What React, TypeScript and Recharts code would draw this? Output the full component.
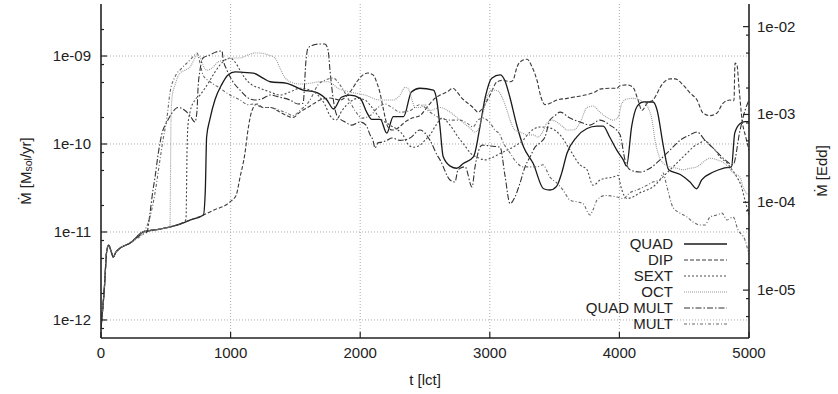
import React from 'react';
import { LineChart, Line, XAxis, YAxis, ReferenceLine, Legend } from 'recharts';

type Pt = [number, number];

// t [lct] -> Mdot [Msol/yr]
const START: Pt[] = [
  [0, 8.1e-13], [25, 2.2e-12], [45, 6.2e-12], [60, 7.1e-12], [75, 6.2e-12], [95, 5.2e-12],
  [115, 5.9e-12], [150, 6.6e-12], [225, 7.5e-12],
];

const QUAD: Pt[] = [
  [325, 1.0e-11], [455, 1.08e-11], [585, 1.2e-11], [690, 1.37e-11], [790, 1.56e-11], [805, 3.0e-11],
  [815, 1.2e-10], [840, 1.9e-10], [880, 3.2e-10], [930, 4.7e-10], [980, 6.1e-10], [1035, 6.6e-10],
  [1100, 6.5e-10], [1175, 6.4e-10], [1250, 5.6e-10], [1305, 5.1e-10], [1435, 4.9e-10], [1560, 4.1e-10],
  [1650, 3.9e-10], [1740, 3.2e-10], [1795, 2.5e-10], [1855, 3.4e-10], [1920, 3.6e-10], [2000, 3.3e-10],
  [2050, 2.3e-10], [2090, 1.9e-10], [2155, 1.9e-10], [2205, 1.33e-10], [2255, 2.05e-10], [2335, 2.05e-10],
  [2395, 3.9e-10], [2460, 4.3e-10], [2565, 4.1e-10], [2590, 3.2e-10], [2615, 1.6e-10], [2640, 7.2e-11],
  [2695, 5.6e-11], [2745, 5.3e-11], [2795, 6.0e-11], [2875, 7.2e-11], [2925, 1.6e-10], [2965, 3.4e-10],
  [3015, 5.6e-10], [3080, 6.1e-10], [3115, 5.3e-10], [3155, 3.4e-10], [3205, 1.7e-10], [3260, 9.3e-11],
  [3335, 6.0e-11], [3415, 3.1e-11], [3465, 3.0e-11], [3515, 3.3e-11], [3555, 4.7e-11], [3595, 7.8e-11],
  [3670, 1.2e-10], [3750, 1.5e-10], [3825, 1.6e-10], [3875, 1.6e-10], [3925, 1.2e-10], [3980, 8.5e-11],
  [4030, 6.6e-11], [4055, 5.6e-11], [4095, 1.6e-10], [4135, 2.65e-10], [4185, 3.0e-10], [4260, 3.0e-10],
  [4290, 2.45e-10], [4340, 9.3e-11], [4380, 5.1e-11], [4470, 4.5e-11], [4545, 3.7e-11], [4595, 3.1e-11],
  [4635, 3.9e-11], [4725, 4.8e-11], [4800, 5.3e-11], [4865, 5.5e-11], [4890, 1.33e-10], [4930, 1.7e-10],
  [4970, 1.8e-10], [5000, 1.8e-10],
];

const DIP: Pt[] = [
  [325, 1.0e-11], [455, 1.08e-11], [585, 1.2e-11], [690, 1.37e-11], [790, 1.56e-11], [880, 1.8e-11],
  [957, 2.0e-11], [995, 2.2e-11], [1042, 2.6e-11], [1073, 4.2e-11], [1111, 7.9e-11], [1134, 1.44e-10],
  [1165, 2.4e-10], [1204, 2.85e-10], [1250, 2.6e-10], [1304, 2.6e-10], [1381, 2.3e-10], [1435, 2.1e-10],
  [1481, 2.0e-10], [1535, 2.3e-10], [1613, 2.7e-10], [1690, 3.16e-10], [1767, 3.33e-10], [1844, 3.16e-10],
  [1921, 3.9e-10], [1983, 5.3e-10], [2022, 6.1e-10], [2060, 6.4e-10], [2099, 6.1e-10], [2130, 4.9e-10],
  [2153, 3.8e-10], [2176, 2.6e-10], [2214, 1.56e-10], [2245, 1.44e-10], [2292, 1.52e-10], [2346, 1.78e-10],
  [2400, 1.97e-10], [2461, 2.1e-10], [2515, 2.6e-10], [2562, 3.16e-10], [2616, 3.6e-10], [2670, 3.9e-10],
  [2716, 4.3e-10], [2747, 3.9e-10], [2786, 3.3e-10], [2832, 2.9e-10], [2870, 2.6e-10], [2909, 2.3e-10],
  [2948, 2.6e-10], [3002, 3.6e-10], [3056, 5.1e-10], [3102, 5.3e-10], [3156, 5.1e-10], [3179, 5.3e-10],
  [3210, 7.5e-10], [3233, 8.55e-10], [3287, 9.2e-10], [3326, 7.5e-10], [3364, 5.3e-10], [3395, 3.4e-10],
  [3426, 2.8e-10], [3464, 2.9e-10], [3518, 3.16e-10], [3596, 3.3e-10], [3642, 3.4e-10], [3735, 3.6e-10],
  [3812, 3.9e-10], [3850, 4.2e-10], [3927, 4.3e-10], [3981, 4.3e-10], [4005, 4.6e-10], [4059, 4.7e-10],
  [4105, 4.4e-10], [4144, 3.16e-10], [4174, 2.4e-10], [4213, 2.9e-10], [4259, 3.16e-10], [4336, 4.9e-10],
  [4391, 5.5e-10], [4429, 5.5e-10], [4491, 4.7e-10], [4545, 3.8e-10], [4599, 3.16e-10], [4645, 2.25e-10],
  [4699, 2.1e-10], [4753, 2.25e-10], [4799, 2.9e-10], [4853, 3.16e-10], [4884, 3.1e-10], [4892, 8.3e-10],
  [4907, 7.9e-10], [4923, 4.4e-10], [4946, 1.9e-10], [4975, 1.2e-10], [5000, 8.5e-11],
];

const SEXT: Pt[] = [
  [325, 1.0e-11], [455, 1.08e-11], [585, 1.2e-11], [640, 1.3e-11], [656, 1.4e-11], [664, 8.5e-11],
  [671, 1.64e-10], [687, 2.3e-10], [725, 3.16e-10], [764, 3.6e-10], [802, 4.3e-10], [841, 5.3e-10],
  [880, 6.6e-10], [918, 7.9e-10], [957, 9.0e-10], [995, 9.5e-10], [1034, 8.55e-10], [1073, 6.9e-10],
  [1111, 5.6e-10], [1165, 4.7e-10], [1227, 4.3e-10], [1304, 3.9e-10], [1381, 3.6e-10], [1458, 3.9e-10],
  [1535, 4.3e-10], [1613, 4.1e-10], [1674, 3.6e-10], [1728, 2.8e-10], [1767, 2.1e-10], [1813, 1.87e-10],
  [1860, 2.4e-10], [1921, 3.0e-10], [1983, 3.3e-10], [2037, 3.16e-10], [2091, 2.6e-10], [2153, 1.97e-10],
  [2230, 1.64e-10], [2292, 1.44e-10], [2330, 1.27e-10], [2361, 1.03e-10], [2407, 9.2e-11], [2461, 9.7e-11],
  [2500, 1.1e-10], [2539, 1.27e-10], [2585, 1.64e-10], [2631, 1.97e-10], [2693, 1.64e-10], [2755, 1.2e-10],
  [2809, 9.5e-11], [2847, 8.0e-11], [2909, 7.0e-11], [2963, 6.6e-11], [3017, 7.0e-11], [3079, 7.8e-11],
  [3133, 8.5e-11], [3194, 9.5e-11], [3256, 1.1e-10], [3310, 1.37e-10], [3387, 1.56e-10], [3464, 1.52e-10],
  [3542, 1.27e-10], [3619, 8.55e-11], [3696, 5.8e-11], [3750, 5.1e-11], [3796, 3.4e-11], [3827, 3.6e-11],
  [3850, 3.9e-11], [3904, 4.1e-11], [3950, 4.2e-11], [3989, 4.4e-11], [4012, 3.25e-11], [4036, 2.6e-11],
  [4059, 2.4e-11], [4105, 2.5e-11], [4159, 2.8e-11], [4213, 3.0e-11], [4259, 3.25e-11], [4313, 3.9e-11],
  [4367, 4.7e-11], [4414, 5.5e-11], [4468, 6.6e-11], [4522, 7.9e-11], [4568, 9.2e-11], [4622, 1.03e-10],
  [4661, 1.1e-10], [4699, 9.7e-11], [4738, 8.55e-11], [4776, 7.1e-11], [4830, 6.1e-11], [4869, 5.1e-11],
  [4907, 4.2e-11], [4938, 3.4e-11], [4969, 2.3e-11], [5000, 1.56e-11],
];

const OCT: Pt[] = [
  [325, 1.0e-11], [455, 1.08e-11], [532, 1.14e-11], [536, 3.9e-11], [540, 1.87e-10], [548, 3.4e-10],
  [571, 4.7e-10], [610, 6.4e-10], [648, 6.9e-10], [687, 7.5e-10], [725, 9.5e-10], [741, 1.03e-9],
  [764, 9.7e-10], [787, 7.9e-10], [818, 6.9e-10], [857, 7.3e-10], [903, 8.55e-10], [957, 9.0e-10],
  [1011, 9.5e-10], [1073, 9.5e-10], [1134, 1.03e-9], [1188, 1.08e-9], [1227, 1.08e-9], [1289, 1.03e-9],
  [1343, 9.5e-10], [1381, 7.3e-10], [1412, 5.9e-10], [1458, 5.1e-10], [1535, 4.8e-10], [1613, 4.9e-10],
  [1690, 5.1e-10], [1752, 5.1e-10], [1829, 4.3e-10], [1921, 3.9e-10], [2037, 3.6e-10], [2153, 3.16e-10],
  [2253, 3.16e-10], [2307, 3.6e-10], [2346, 4.4e-10], [2369, 4.3e-10], [2400, 3.16e-10], [2423, 2.6e-10],
  [2461, 2.6e-10], [2500, 2.8e-10], [2539, 2.4e-10], [2616, 2.6e-10], [2693, 2.3e-10], [2770, 1.87e-10],
  [2847, 1.52e-10], [2886, 1.37e-10], [2909, 1.44e-10], [2940, 2.0e-10], [2978, 3.4e-10], [3017, 4.1e-10],
  [3063, 4.0e-10], [3094, 3.4e-10], [3133, 2.4e-10], [3156, 1.87e-10], [3194, 1.44e-10], [3233, 1.37e-10],
  [3287, 1.27e-10], [3333, 1.27e-10], [3372, 1.2e-10], [3403, 1.33e-10], [3441, 1.73e-10], [3480, 1.87e-10],
  [3526, 1.73e-10], [3565, 1.56e-10], [3596, 1.44e-10], [3642, 1.44e-10], [3696, 1.73e-10], [3750, 2.6e-10],
  [3796, 2.7e-10], [3850, 2.3e-10], [3904, 2.0e-10], [3950, 1.87e-10], [3989, 2.0e-10], [4020, 2.9e-10],
  [4059, 3.25e-10], [4105, 3.3e-10], [4159, 3.16e-10], [4197, 2.9e-10], [4221, 2.6e-10], [4252, 1.87e-10],
  [4275, 1.1e-10], [4298, 7.9e-11], [4336, 6.1e-11], [4391, 5.5e-11], [4444, 5.3e-11], [4491, 5.1e-11],
  [4545, 5.3e-11], [4599, 5.5e-11], [4645, 6.2e-11], [4699, 6.9e-11], [4753, 6.6e-11], [4799, 6.2e-11],
  [4838, 5.5e-11], [4877, 4.7e-11], [4931, 4.2e-11], [4954, 3.25e-11], [5000, 2.6e-11],
];

const QUAD_MULT: Pt[] = [
  [301, 9.2e-12], [355, 1.0e-11], [378, 1.64e-11], [401, 3.0e-11], [417, 4.2e-11], [440, 7.5e-11],
  [471, 1.33e-10], [509, 1.78e-10], [548, 2.25e-10], [594, 2.6e-10], [648, 2.4e-10], [687, 2.1e-10],
  [725, 1.78e-10], [741, 2.4e-10], [748, 4.1e-10], [764, 6.9e-10], [787, 9.5e-10], [841, 1.03e-9],
  [887, 1.11e-9], [934, 1.14e-9], [941, 9.5e-10], [972, 6.9e-10], [1011, 5.3e-10], [1073, 4.1e-10],
  [1127, 3.4e-10], [1188, 3.16e-10], [1250, 3.3e-10], [1304, 3.6e-10], [1381, 3.4e-10], [1458, 3.16e-10],
  [1520, 2.85e-10], [1559, 2.9e-10], [1582, 9.0e-10], [1597, 1.23e-9], [1636, 1.33e-9], [1690, 1.37e-9],
  [1728, 1.37e-9], [1752, 1.17e-9], [1767, 6.9e-10], [1790, 3.4e-10], [1821, 2.1e-10], [1883, 1.78e-10],
  [1937, 1.64e-10], [1998, 1.78e-10], [2045, 1.64e-10], [2076, 1.27e-10], [2099, 1.1e-10], [2114, 9.0e-11],
  [2137, 1.03e-10], [2168, 1.05e-10], [2207, 1.1e-10], [2245, 1.17e-10], [2307, 1.1e-10], [2384, 1.17e-10],
  [2461, 1.44e-10], [2539, 1.1e-10], [2593, 7.5e-11], [2616, 6.6e-11], [2693, 3.9e-11], [2731, 3.7e-11],
  [2755, 5.1e-11], [2809, 5.5e-11], [2863, 3.25e-11], [2886, 5.5e-11], [2940, 9.7e-11], [3002, 9.5e-11],
  [3079, 9.2e-11], [3117, 4.4e-11], [3156, 2.1e-11], [3194, 2.5e-11], [3233, 3.6e-11], [3272, 5.5e-11],
  [3310, 7.1e-11], [3349, 9.2e-11], [3387, 1.03e-10], [3426, 1.2e-10], [3464, 1.87e-10], [3503, 2.1e-10],
  [3542, 2.3e-10], [3619, 1.97e-10], [3696, 1.78e-10], [3773, 1.64e-10], [3850, 1.87e-10], [3927, 1.64e-10],
  [4005, 1.27e-10], [4043, 6.6e-11], [4082, 5.1e-11], [4159, 4.8e-11], [4236, 5.3e-11], [4313, 6.6e-11],
  [4391, 8.55e-11], [4468, 1.1e-10], [4545, 1.27e-10], [4599, 1.37e-10], [4661, 1.1e-10], [4738, 8.55e-11],
  [4815, 6.6e-11], [4877, 5.8e-11], [4931, 1.44e-10], [4969, 2.4e-10], [5000, 3.16e-10],
];

const MULT: Pt[] = [
  [262, 8.1e-12], [324, 9.7e-12], [378, 1.48e-11], [417, 2.8e-11], [455, 6.6e-11], [478, 1.1e-10],
  [509, 2.0e-10], [532, 3.8e-10], [571, 5.8e-10], [625, 7.3e-10], [671, 8.55e-10], [725, 1.03e-9],
  [741, 1.08e-9], [764, 8.3e-10], [787, 6.1e-10], [841, 5.1e-10], [918, 4.3e-10], [995, 3.6e-10],
  [1073, 3.16e-10], [1134, 2.8e-10], [1188, 2.85e-10], [1242, 2.6e-10], [1304, 2.6e-10], [1381, 2.4e-10],
  [1435, 2.25e-10], [1481, 2.1e-10], [1535, 2.4e-10], [1613, 3.16e-10], [1674, 4.7e-10], [1728, 5.3e-10],
  [1790, 5.6e-10], [1844, 4.7e-10], [1906, 3.3e-10], [1960, 2.4e-10], [2014, 1.97e-10], [2076, 2.1e-10],
  [2137, 2.6e-10], [2191, 2.85e-10], [2245, 2.6e-10], [2307, 2.3e-10], [2384, 2.4e-10], [2461, 2.8e-10],
  [2539, 2.3e-10], [2616, 1.97e-10], [2693, 1.87e-10], [2770, 1.87e-10], [2824, 1.73e-10], [2870, 1.56e-10],
  [2909, 1.87e-10], [2948, 1.97e-10], [3002, 1.73e-10], [3040, 1.44e-10], [3079, 1.27e-10], [3102, 1.05e-10],
  [3156, 7.9e-11], [3210, 6.1e-11], [3256, 5.5e-11], [3310, 5.5e-11], [3364, 5.5e-11], [3410, 5.8e-11],
  [3464, 4.2e-11], [3518, 3.6e-11], [3565, 3.0e-11], [3619, 2.3e-11], [3673, 2.2e-11], [3719, 2.1e-11],
  [3773, 1.56e-11], [3796, 1.78e-11], [3827, 2.3e-11], [3889, 2.6e-11], [3981, 2.5e-11], [4028, 2.4e-11],
  [4082, 2.8e-11], [4136, 3.0e-11], [4213, 3.4e-11], [4259, 3.7e-11], [4313, 3.9e-11], [4336, 4.7e-11],
  [4367, 3.25e-11], [4414, 1.9e-11], [4468, 1.64e-11], [4522, 1.48e-11], [4568, 1.3e-11], [4622, 1.2e-11],
  [4661, 1.2e-11], [4699, 1.48e-11], [4753, 1.56e-11], [4792, 1.64e-11], [4830, 1.37e-11], [4877, 1.48e-11],
  [4915, 1.06e-11], [4969, 8.1e-12], [5000, 5.5e-12],
];

const X_TICKS = [0, 1000, 2000, 3000, 4000, 5000];
const X_GRID = [1000, 2000, 3000, 4000];
const LEFT_MAJOR = [1e-12, 1e-11, 1e-10, 1e-9];
const LEFT_LABELS = ['1e-12', '1e-11', '1e-10', '1e-09'];
const LEFT_MINOR = [8e-13, 2e-12, 5e-12, 8e-12, 2e-11, 5e-11, 8e-11, 2e-10, 5e-10, 8e-10, 2e-9];
const RIGHT_MAJOR = [1e-5, 1e-4, 1e-3, 1e-2];
const RIGHT_LABELS = ['1e-05', '1e-04', '1e-03', '1e-02'];
const RIGHT_MINOR = [5e-6, 8e-6, 2e-5, 5e-5, 8e-5, 2e-4, 5e-4, 8e-4, 2e-3, 5e-3, 8e-3];

const FONT = '"Liberation Sans", Arial, "DejaVu Sans", sans-serif';
const INK = '#222';

const toRows = (pts: Pt[]) => pts.map(([t, v]) => ({ t, v }));

const SERIES = [
  { name: 'QUAD', data: toRows([...START, ...QUAD]), stroke: '#1a1a1a', dash: undefined, w: 1.3 },
  { name: 'DIP', data: toRows([...START, ...DIP]), stroke: '#3a3a3a', dash: '4 2', w: 1.1 },
  { name: 'SEXT', data: toRows([...START, ...SEXT]), stroke: '#4a4a4a', dash: '2 2', w: 1.1 },
  { name: 'OCT', data: toRows([...START, ...OCT]), stroke: '#9a9a9a', dash: '1 1', w: 1.1 },
  { name: 'QUAD MULT', data: toRows([...START, ...QUAD_MULT]), stroke: '#333', dash: '6 2 1.5 2', w: 1.1 },
  { name: 'MULT', data: toRows([...START, ...MULT]), stroke: '#666', dash: '3 2 1 2', w: 1.1 },
];

const BottomTick = (p: any) => (
  <g>
    <line x1={p.x} x2={p.x} y1={p.y - 9} y2={p.y - 15} stroke={INK} strokeWidth={1.2} />
    <text x={p.x} y={p.y} dy={11} textAnchor="middle" fontSize={15} fontFamily={FONT} fill={INK}>
      {p.payload.value}
    </text>
  </g>
);

const TopTick = (p: any) => (
  <line x1={p.x} x2={p.x} y1={p.y} y2={p.y + 6} stroke={INK} strokeWidth={1.2} />
);

const LeftTick = (p: any) => {
  const i = LEFT_MAJOR.indexOf(p.payload.value);
  const edge = p.x + 10;
  return (
    <g>
      <line x1={edge} x2={edge + (i >= 0 ? 6 : 3)} y1={p.y} y2={p.y} stroke={INK} strokeWidth={1.2} />
      {i >= 0 && (
        <text x={p.x} y={p.y} dy={5} textAnchor="end" fontSize={15} fontFamily={FONT} fill={INK}>
          {LEFT_LABELS[i]}
        </text>
      )}
    </g>
  );
};

const RightTick = (p: any) => {
  const i = RIGHT_MAJOR.indexOf(p.payload.value);
  const edge = p.x - 8;
  return (
    <g>
      <line x1={edge} x2={edge - (i >= 0 ? 6 : 3)} y1={p.y} y2={p.y} stroke={INK} strokeWidth={1.2} />
      {i >= 0 && (
        <text x={p.x} y={p.y} dy={5} textAnchor="start" fontSize={15} fontFamily={FONT} fill={INK}>
          {RIGHT_LABELS[i]}
        </text>
      )}
    </g>
  );
};

const LeftTitle = (p: any) => {
  const { x, y, height } = p.viewBox;
  const cx = x + 25;
  const cy = y + height / 2;
  return (
    <text x={cx} y={cy} transform={`rotate(-90 ${cx} ${cy})`} textAnchor="middle" dominantBaseline="central"
      fontSize={15} fontFamily={FONT} fill={INK}>
      Ṁ [M<tspan fontSize={10.5} dy={3}>sol</tspan><tspan dy={-3}>/yr]</tspan>
    </text>
  );
};

const RightTitle = (p: any) => {
  const { x, y, height } = p.viewBox;
  const cx = x + 72;
  const cy = y + height / 2;
  return (
    <text x={cx} y={cy} transform={`rotate(-90 ${cx} ${cy})`} textAnchor="middle" dominantBaseline="central"
      fontSize={15} fontFamily={FONT} fill={INK}>
      Ṁ [Edd]
    </text>
  );
};

const BottomTitle = (p: any) => {
  const { x, y, width } = p.viewBox;
  return (
    <text x={x + width / 2} y={y + 47} textAnchor="middle" fontSize={15} fontFamily={FONT} fill={INK}>
      t [lct]
    </text>
  );
};

const LegendBox = () => (
  <svg width={200} height={100}>
    {SERIES.map((s, i) => (
      <g key={s.name}>
        <text x={133} y={8 + i * 16} dy={5} textAnchor="end" fontSize={15} fontFamily={FONT} fill={INK}>
          {s.name}
        </text>
        <line x1={144} x2={187} y1={8 + i * 16} y2={8 + i * 16} stroke={s.stroke}
          strokeDasharray={s.dash} strokeWidth={s.w} />
      </g>
    ))}
  </svg>
);

export default function App() {
  const frame = { stroke: INK, strokeWidth: 1.6 };
  return (
    <div style={{ position: 'absolute', left: 0, top: 0, width: 838, height: 394, background: '#fff' }}>
      <LineChart width={838} height={394} margin={{ top: 4, right: 0, bottom: 0, left: 0 }}>
        <XAxis xAxisId="b" dataKey="t" type="number" domain={[0, 5000]} ticks={X_TICKS} interval={0}
          height={56} tickSize={0} tickMargin={9} tick={<BottomTick />} tickLine={false} axisLine={frame}
          allowDataOverflow label={<BottomTitle />} />
        <XAxis xAxisId="top" orientation="top" dataKey="t" type="number" domain={[0, 5000]} ticks={X_TICKS}
          interval={0} height={0} tickSize={0} tickMargin={0} tick={<TopTick />} tickLine={false}
          axisLine={frame} allowDataOverflow />
        <YAxis yAxisId="l" scale="log" type="number" domain={[6.24e-13, 3.9e-9]} allowDataOverflow
          ticks={[...LEFT_MAJOR, ...LEFT_MINOR]} interval={0} width={101} tickSize={0} tickMargin={10}
          tick={<LeftTick />} tickLine={false} axisLine={frame} label={<LeftTitle />} />
        <YAxis yAxisId="r" orientation="right" scale="log" type="number" domain={[2.85e-6, 1.81e-2]}
          allowDataOverflow ticks={[...RIGHT_MAJOR, ...RIGHT_MINOR]} interval={0} width={89} tickSize={0}
          tickMargin={8} tick={<RightTick />} tickLine={false} axisLine={frame} label={<RightTitle />} />

        {X_GRID.map((t) => (
          <ReferenceLine key={`gx${t}`} x={t} xAxisId="b" yAxisId="l" stroke="#aaa" strokeDasharray="1 2" />
        ))}
        {LEFT_MAJOR.map((v) => (
          <ReferenceLine key={`gy${v}`} y={v} xAxisId="b" yAxisId="l" stroke="#aaa" strokeDasharray="1 2" />
        ))}

        {SERIES.map((s) => (
          <Line key={s.name} name={s.name} data={s.data} dataKey="v" xAxisId="b" yAxisId="l" type="monotone"
            stroke={s.stroke} strokeWidth={s.w} strokeDasharray={s.dash} dot={false} activeDot={false}
            isAnimationActive={false} />
        ))}

        <Legend content={<LegendBox />} layout="horizontal" verticalAlign="middle" align="center"
          wrapperStyle={{ left: 540, top: 236, width: 200, height: 100, right: 'auto', bottom: 'auto' }} />
      </LineChart>
    </div>
  );
}
